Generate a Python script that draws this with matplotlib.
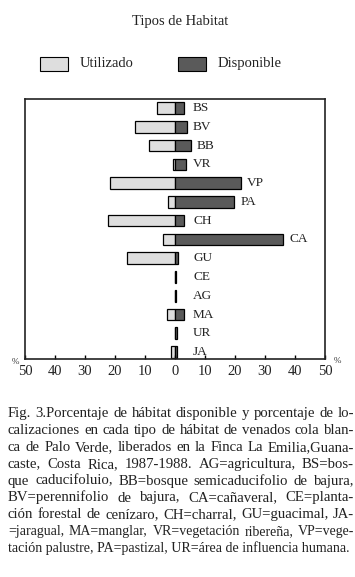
import matplotlib
matplotlib.use("Agg")
import matplotlib.pyplot as plt
from matplotlib.patches import Rectangle
from matplotlib.font_manager import FontProperties

plt.rcParams['font.family'] = ['Liberation Serif', 'DejaVu Serif']

categories = ['BS', 'BV', 'BB', 'VR', 'VP', 'PA', 'CH', 'CA', 'GU', 'CE', 'AG', 'MA', 'UR', 'JA']
utilizado = [5.9, 13.3, 8.6, 0.8, 21.6, 2.2, 22.4, 3.9, 16.1, 0.0, 0.0, 2.8, 0.0, 1.2]
disponible = [3.0, 3.9, 5.3, 3.6, 22.1, 19.8, 3.1, 36.1, 0.9, 0.4, 0.3, 3.0, 0.6, 0.5]
tick_values = [-50, -40, -30, -20, -10, 0, 10, 20, 30, 40, 50]
tick_labels = ['50', '40', '30', '20', '10', '0', '10', '20', '30', '40', '50']

title = 'Tipos de Habitat'
legend_labels = ['Utilizado', 'Disponible']
caption_lines = [
    'Fig. 3.Porcentaje de hábitat disponible y porcentaje de lo-',
    'calizaciones en cada tipo de hábitat de venados cola blan-',
    'ca de Palo Verde, liberados en la Finca La Emilia,Guana-',
    'caste, Costa Rica, 1987-1988. AG=agricultura, BS=bos-',
    'que caducifoluio, BB=bosque semicaducifolio de bajura,',
    'BV=perennifolio de bajura, CA=cañaveral, CE=planta-',
    'ción forestal de cenízaro, CH=charral, GU=guacimal, JA-',
    '=jaragual, MA=manglar, VR=vegetación ribereña, VP=vege-',
    'tación palustre, PA=pastizal, UR=área de influencia humana.',
]

W, H = 355, 577
fig = plt.figure(figsize=(W / 100, H / 100), dpi=100)

c_util = '#dedede'
c_disp = '#5a5a5a'

ax = fig.add_axes([25 / W, 1 - 359 / H, 300 / W, 260 / H])
y = list(range(len(categories)))
ax.barh(y, [-u for u in utilizado], height=0.62, color=c_util, edgecolor='black', linewidth=0.9)
ax.barh(y, disponible, height=0.62, color=c_disp, edgecolor='black', linewidth=0.9)
ax.set_xlim(-50, 50)
ax.set_ylim(13.37, -0.48)
ax.set_yticks([])
ax.set_xticks(tick_values)
ax.set_xticklabels(tick_labels, fontsize=10.5, color='#222222')
ax.tick_params(axis='x', direction='in', length=3, width=1, pad=4.5)
for s in ax.spines.values():
    s.set_linewidth(1.2)
    s.set_color('#222222')

for yi, cat, d in zip(y, categories, disponible):
    ax.annotate(cat, xy=(max(d, 4), yi), xytext=(6, 0), textcoords='offset pixels',
                ha='left', va='center', fontsize=9.5, color='#222222')

# percent signs
fig.text(15 / W, 1 - 362 / H, '%', fontsize=6.5, ha='center', va='center', color='#333333')
fig.text(337 / W, 1 - 361 / H, '%', fontsize=6.5, ha='center', va='center', color='#333333')

# title
fig.text(180 / W, 1 - 22 / H, title, fontsize=10.5, ha='center', va='center', color='#222222')

# legend
for x0, col, lab, tx in [(40, c_util, legend_labels[0], 80), (178, c_disp, legend_labels[1], 218)]:
    fig.patches.append(Rectangle((x0 / W, 1 - 70.7 / H), 28 / W, 13.5 / H,
                                 transform=fig.transFigure, facecolor=col,
                                 edgecolor='black', linewidth=0.8))
    fig.text(tx / W, 1 - 63.5 / H, lab, fontsize=10.5, ha='left', va='center', color='#222222')

# caption, justified (word positions from measured prefix widths)
renderer = fig.canvas.get_renderer()


def textwidth(s, fs):
    prop = FontProperties(family=['Liberation Serif', 'DejaVu Serif'], size=fs)
    w, _, _ = renderer.get_text_width_height_descent('|' + s + '|', prop, ismath=False)
    w0, _, _ = renderer.get_text_width_height_descent('||', prop, ismath=False)
    return w - w0


x_left, x_right = 8, 354
y0, dy = 417, 16.9   # baselines
base_fs = 10.6
for i, line in enumerate(caption_lines):
    yy = 1 - (y0 + i * dy) / H
    last = (i == len(caption_lines) - 1)
    target = x_right - x_left
    nat = textwidth(line, base_fs)
    fs = base_fs if nat <= target * 0.99 else base_fs * target * 0.99 / nat
    if last:
        fig.text(x_left / W, yy, line, fontsize=fs, ha='left', va='baseline', color='#222222')
        continue
    words = line.split(' ')
    nat = textwidth(line, fs)
    extra = (target - nat) / (len(words) - 1)
    for k, wd in enumerate(words):
        prefix = ' '.join(words[:k]) + (' ' if k > 0 else '')
        xk = x_left + textwidth(prefix, fs) + k * extra
        fig.text(xk / W, yy, wd, fontsize=fs, ha='left', va='baseline', color='#222222')

fig.savefig('out.png', dpi=100)
